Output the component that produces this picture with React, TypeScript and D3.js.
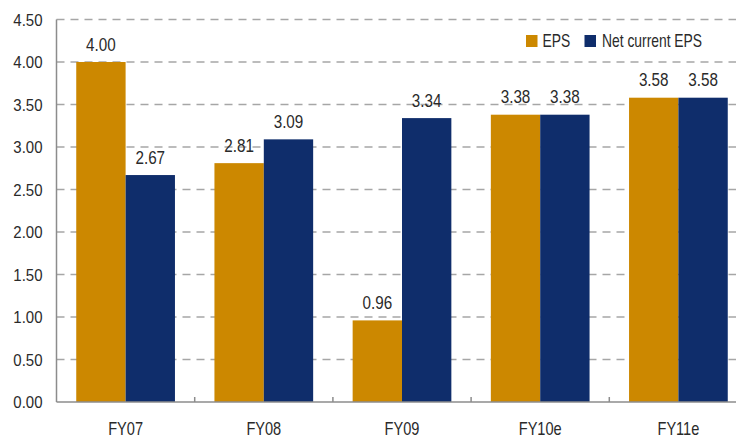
import React from "react";
import * as d3 from "d3";

const categories = ["FY07", "FY08", "FY09", "FY10e", "FY11e"];
const epsValues = [4.0, 2.81, 0.96, 3.38, 3.58];
const netCurrentEpsValues = [2.67, 3.09, 3.34, 3.38, 3.58];
const seriesNames = ["EPS", "Net current EPS"];
const yTicks = [0, 0.5, 1, 1.5, 2, 2.5, 3, 3.5, 4, 4.5];

const colors = ["#CC8800", "#0F2D6B"];
const font = "'Liberation Sans', Arial, sans-serif";

// Narrow text: regular sans squeezed horizontally
function T({
  x,
  y,
  anchor = "start",
  size,
  sx,
  children,
}: {
  x: number;
  y: number;
  anchor?: "start" | "middle" | "end";
  size: number;
  sx: number;
  children: React.ReactNode;
}) {
  return (
    <text
      transform={`translate(${x},${y}) scale(${sx},1)`}
      textAnchor={anchor}
      fontSize={size}
      fill="#2a2a2a"
    >
      {children}
    </text>
  );
}

export default function App() {
  const width = 736;
  const height = 437;
  const left = 56.5;
  const plotRight = left + 5 * 138.2;
  const top = 19.5;
  const bottom = 402;

  const x = d3.scaleBand<string>().domain(categories).range([left, plotRight]).paddingInner(0).paddingOuter(0);
  const inner = d3
    .scaleBand<string>()
    .domain(seriesNames)
    .range([0, x.bandwidth()])
    .paddingInner(0)
    .paddingOuter(0.4);
  const y = d3.scaleLinear().domain([0, 4.5]).range([bottom, top]);

  const series = [epsValues, netCurrentEpsValues];

  return (
    <svg
      width={width}
      height={height}
      style={{ position: "absolute", left: 0, top: 0, background: "#fff" }}
      fontFamily={font}
    >
      {/* horizontal gridlines */}
      {yTicks
        .filter((t) => t > 0)
        .map((t) => (
          <line
            key={t}
            x1={left}
            x2={width}
            y1={y(t)}
            y2={y(t)}
            stroke="#a6a6a6"
            strokeWidth={1.3}
            strokeDasharray="8,6"
          />
        ))}
      {/* bars */}
      {categories.map((c, i) =>
        series.map((vals, s) => (
          <rect
            key={c + s}
            x={(x(c) ?? 0) + (inner(seriesNames[s]) ?? 0)}
            y={y(vals[i])}
            width={inner.bandwidth()}
            height={bottom - y(vals[i])}
            fill={colors[s]}
          />
        ))
      )}
      {/* value labels */}
      {categories.map((c, i) =>
        series.map((vals, s) => (
          <T
            key={"l" + c + s}
            x={(x(c) ?? 0) + (inner(seriesNames[s]) ?? 0) + inner.bandwidth() / 2}
            y={y(vals[i]) - 11.5}
            anchor="middle"
            size={17.5}
            sx={0.87}
          >
            {vals[i].toFixed(2)}
          </T>
        ))
      )}
      {/* axes */}
      <line x1={left} x2={left} y1={top} y2={bottom} stroke="#8c8c8c" strokeWidth={1.5} />
      <line x1={left} x2={width} y1={bottom} y2={bottom} stroke="#8c8c8c" strokeWidth={1.5} />
      {categories.slice(1).map((c) => (
        <line
          key={"t" + c}
          x1={x(c)}
          x2={x(c)}
          y1={bottom}
          y2={bottom - 5}
          stroke="#8c8c8c"
          strokeWidth={1.5}
        />
      ))}
      {yTicks.map((t) => (
        <T key={"y" + t} x={42.5} y={y(t) + 6} anchor="end" size={16.3} sx={0.92}>
          {t.toFixed(2)}
        </T>
      ))}
      {categories.map((c) => (
        <T key={"x" + c} x={(x(c) ?? 0) + x.bandwidth() / 2} y={435} anchor="middle" size={18} sx={0.81}>
          {c}
        </T>
      ))}
      {/* legend */}
      <rect x={526} y={35} width={11.5} height={12} fill={colors[0]} />
      <T x={542.5} y={47.3} size={18} sx={0.77}>
        {seriesNames[0]}
      </T>
      <rect x={584.5} y={35} width={11.5} height={12} fill={colors[1]} />
      <T x={602} y={47.3} size={18} sx={0.77}>
        {seriesNames[1]}
      </T>
    </svg>
  );
}
